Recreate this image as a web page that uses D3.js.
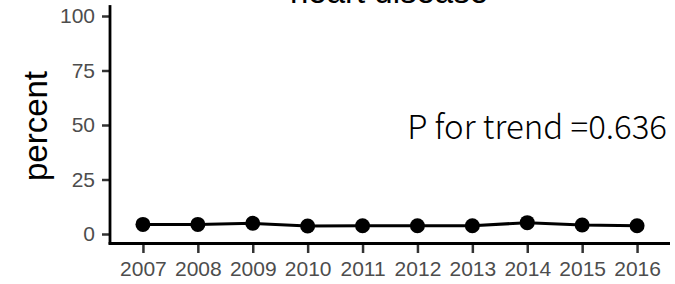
<!DOCTYPE html>
<html><head><meta charset="utf-8">
<script src="https://cdn.jsdelivr.net/npm/d3@7"></script>
<style>body{margin:0;background:#fff}svg{display:block}</style>
</head><body>
<script>
const years = ["2007","2008","2009","2010","2011","2012","2013","2014","2015","2016"];
const percent = [4.4, 4.4, 4.9, 3.7, 3.8, 3.8, 3.8, 5.2, 4.1, 3.8];
const yTicks = [0, 25, 50, 75, 100];
const title = "heart disease";
const yTitle = "percent";
const note = "P for trend =0.636";

const W = 675, H = 284;
const svg = d3.select("body").append("svg").attr("width", W).attr("height", H);

const x = d3.scalePoint().domain(years).range([110, 670]).padding(0.6);
const y = d3.scaleLinear().domain([-5, 105]).range([244.9, 5.1]);

// title (clipped at top)
svg.append("text").attr("x", 389).attr("y", 3).attr("text-anchor", "middle")
  .attr("font-family", "Liberation Sans, Arial, sans-serif").attr("font-size", 33)
  .attr("fill", "#000").text(title);

// y axis
const gy = svg.append("g").attr("transform", "translate(110,0)")
  .call(d3.axisLeft(y).tickValues(yTicks).tickSize(8).tickPadding(7));
gy.select(".domain").remove();
gy.selectAll(".tick line").attr("stroke", "#333").attr("stroke-width", 2.5);
gy.selectAll(".tick text").attr("font-family", "Liberation Sans, Arial, sans-serif")
  .attr("font-size", 21).attr("fill", "#4d4d4d");

// x axis
const gx = svg.append("g").attr("transform", "translate(0,243)")
  .call(d3.axisBottom(x).tickSize(10).tickPadding(8));
gx.select(".domain").remove();
gx.selectAll(".tick line").attr("stroke", "#333").attr("stroke-width", 2.5);
gx.selectAll(".tick text").attr("font-family", "Liberation Sans, Arial, sans-serif")
  .attr("font-size", 21).attr("fill", "#4d4d4d");

// axis lines
svg.append("line").attr("x1", 110).attr("x2", 110).attr("y1", y(105)).attr("y2", 244.5)
  .attr("stroke", "#000").attr("stroke-width", 2.8);
svg.append("line").attr("x1", 108.6).attr("x2", 670).attr("y1", 243.5).attr("y2", 243.5)
  .attr("stroke", "#000").attr("stroke-width", 2.8);

// y title
svg.append("text").attr("transform", "translate(47,126) rotate(-90)")
  .attr("text-anchor", "middle").attr("font-family", "Liberation Sans, Arial, sans-serif")
  .attr("font-size", 33).attr("fill", "#000").text(yTitle);

// line + points
const data = years.map((d, i) => ({year: d, v: percent[i]}));
svg.append("path").datum(data)
  .attr("d", d3.line().x(d => x(d.year)).y(d => y(d.v)))
  .attr("fill", "none").attr("stroke", "#000").attr("stroke-width", 3);
svg.selectAll("circle.pt").data(data).join("circle").attr("class", "pt")
  .attr("cx", d => x(d.year)).attr("cy", d => y(d.v)).attr("r", 7.5).attr("fill", "#000");

// annotation
const t = svg.append("text").attr("x", 667).attr("y", 139).attr("text-anchor", "end")
  .attr("font-family", "Noto Sans CJK JP, sans-serif").attr("font-weight", 300).attr("font-size", 31)
  .attr("fill", "#000").text(note);
const len = t.node().getComputedTextLength();
if (len > 0) t.attr("font-size", 31 * 260 / len);
</script>
</body></html>
